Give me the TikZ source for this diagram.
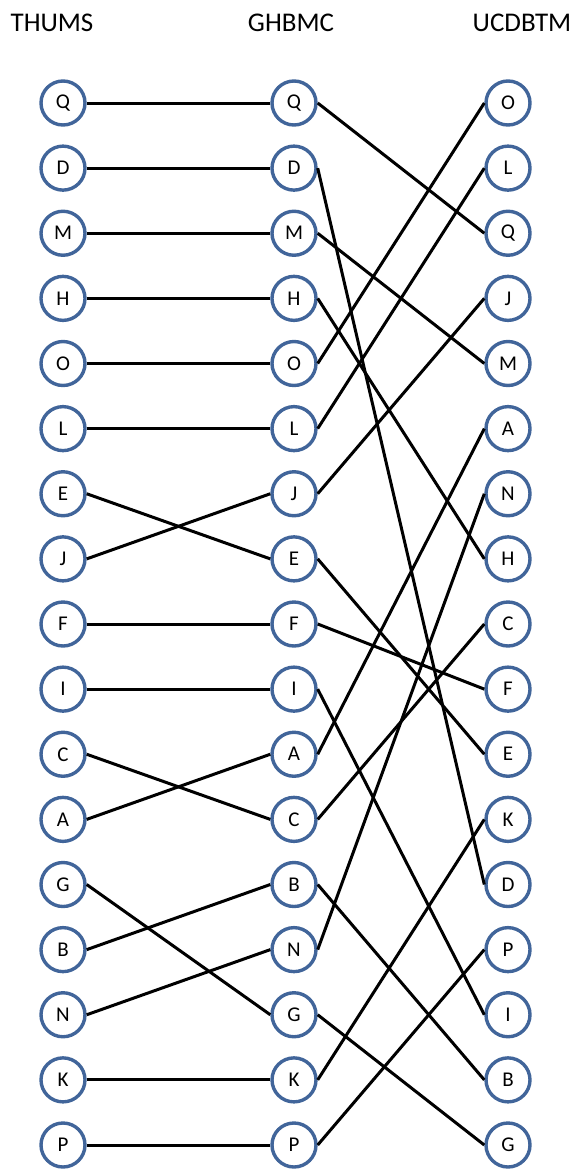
\documentclass[tikz,border=0pt]{standalone}
\usepackage{fontspec}
\setmainfont{Carlito}
\usepackage{tikz}
\usetikzlibrary{positioning}
\definecolor{RingBlue}{HTML}{41659A}

\tikzset{
  joint/.style={circle, draw=RingBlue, line width=3.4pt, fill=white,
    minimum size=44pt, inner sep=0pt, font=\fontsize{21}{21}\selectfont},
  link/.style={line width=3pt, black},
  colhead/.style={font=\fontsize{27}{27}\selectfont}
}

\begin{document}
\begin{tikzpicture}[x=1pt, y=-1pt]
  \useasboundingbox (0,0) rectangle (576,1173);
  % column heads
  \node[colhead] (hthums) at (52,23) {THUMS};
  \node[colhead] (hghbmc) at (291,23) {GHBMC};
  \node[colhead] (hucd) at (522,23) {UCDBTM};
  % centres of the three columns
  \foreach \n [count=\i] in {Q,D,M,H,O,L,E,J,F,I,C,A,G,B,N,K,P}
    \coordinate (ct\n) at (63,{103+(\i-1)*65.125});
  \foreach \n [count=\i] in {Q,D,M,H,O,L,J,E,F,I,A,C,B,N,G,K,P}
    \coordinate (cg\n) at (294,{103+(\i-1)*65.125});
  \foreach \n [count=\i] in {O,L,Q,J,M,A,N,H,C,F,E,K,D,P,I,B,G}
    \coordinate (cu\n) at (508,{103+(\i-1)*65.125});
  \foreach \n in {A,B,C,D,E,F,G,H,I,J,K,L,M,N,O,P,Q} {
    \node[joint] (t\n) at (ct\n) {\n};
    \node[joint] (g\n) at (cg\n) {\n};
    \node[joint] (u\n) at (cu\n) {\n};
  }
  \foreach \n in {A,B,C,D,E,F,G,H,I,J,K,L,M,N,O,P,Q} {
    \draw[link] (t\n.east) -- (g\n.west);
    \draw[link] (g\n.east) -- (u\n.west);
  }
\end{tikzpicture}
\end{document}
